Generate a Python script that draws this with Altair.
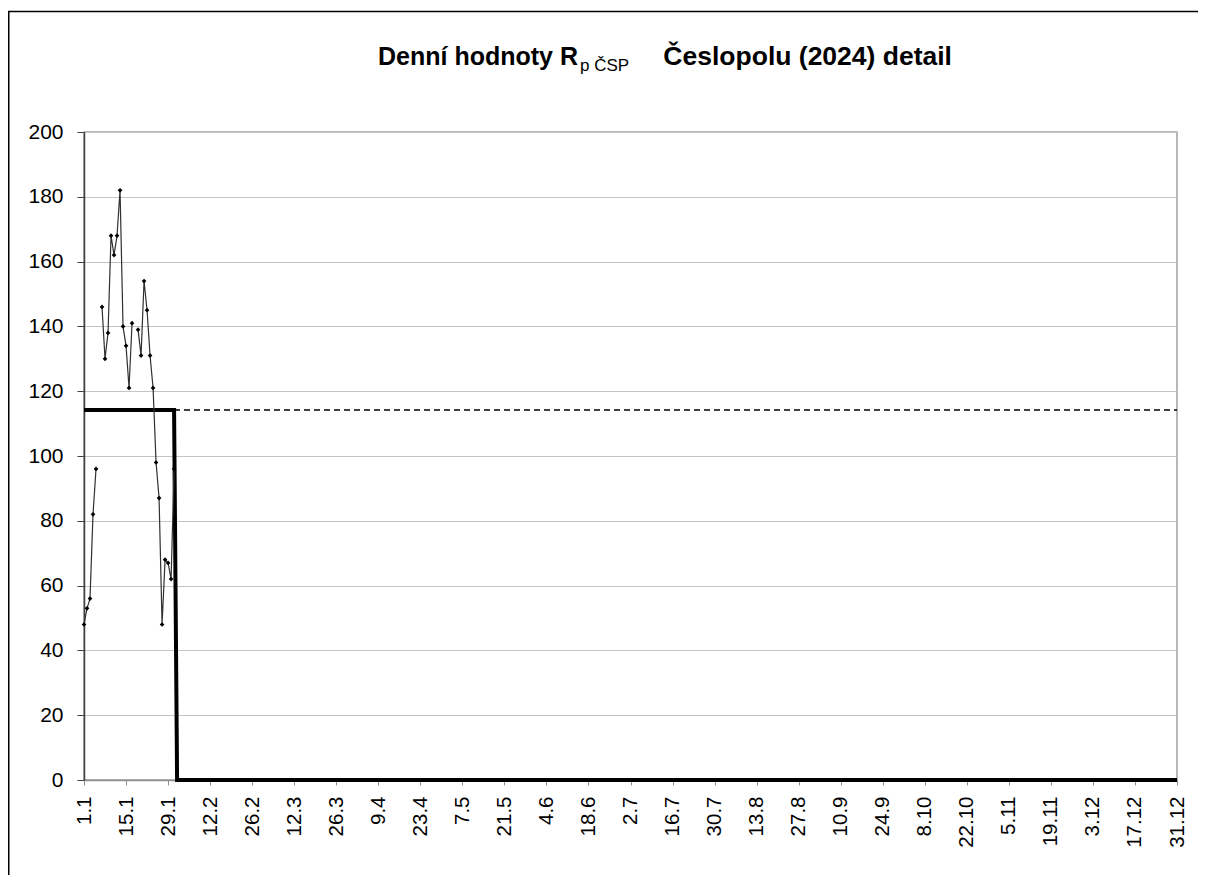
import altair as alt
import pandas as pd

# ---- data ----
jan_days = list(range(1, 32))
rp_jan = [48, 53, 56, 82, 96, None, 146, 130, 138, 168, 162, 168, 182, 140,
          134, 121, 141, None, 139, 131, 154, 145, 131, 121, 98, 87, 48, 68,
          67, 62, 96]
month_lengths = [31, 28, 31, 30, 31, 30, 31, 31, 30, 31, 30, 31]
monthly_mean = [114.2, 0, 0, 0, 0, 0, 0, 0, 0, 0, 0, 0]
yearly_mean = 114.2
tick_days = list(range(1, 366, 14))
tick_labels = ["1.1", "15.1", "29.1", "12.2", "26.2", "12.3", "26.3", "9.4",
               "23.4", "7.5", "21.5", "4.6", "18.6", "2.7", "16.7", "30.7",
               "13.8", "27.8", "10.9", "24.9", "8.10", "22.10", "5.11",
               "19.11", "3.12", "17.12", "31.12"]
y_ticks = list(range(0, 201, 20))

FONT = "Liberation Sans"
W, H = 1093, 648

# daily series with segment ids so gaps break the line
rows = []
seg = 0
for d, v in zip(jan_days, rp_jan):
    if v is None:
        seg += 1
        continue
    rows.append({"day": d, "rp": v, "seg": seg})
daily = pd.DataFrame(rows)

# monthly mean step
step_rows = []
start = 1
for n, m in zip(month_lengths, monthly_mean):
    step_rows.append({"day": start, "val": m, "o": len(step_rows)})
    step_rows.append({"day": start + n - 1, "val": m, "o": len(step_rows)})
    start += n
step = pd.DataFrame(step_rows)

ymean = pd.DataFrame([{"d1": 1, "d2": 365, "val": yearly_mean}])

label_arr = "[" + ",".join("'" + t + "'" for t in tick_labels) + "]"
x_scale = alt.Scale(domain=[1, 365], nice=False, zero=False)
y_scale = alt.Scale(domain=[0, 200], nice=False)

x_axis = alt.Axis(values=tick_days, labelExpr=label_arr + "[round((datum.value-1)/14)]",
                  labelAngle=270, labelAlign="right", labelBaseline="middle",
                  labelFont=FONT, labelFontSize=20.5, labelColor="#000000",
                  labelPadding=11, tickSize=5, tickColor="#909090",
                  domainColor="#909090", domainWidth=1.5, grid=False, title=None,
                  labelOverlap=False)
y_axis = alt.Axis(values=y_ticks, labelFont=FONT, labelFontSize=21,
                  labelColor="#000000", labelPadding=14, tickSize=7,
                  tickColor="#404040", domainColor="#404040", domainWidth=1.5,
                  grid=True, gridColor="#c4c4c4", gridWidth=1, title=None)

one = alt.Data(values=[{}])

border = alt.Chart(one).mark_rect(fill="white", fillOpacity=0, stroke="black",
                                  strokeWidth=1.5).encode(
    x=alt.value(-75.25), x2=alt.value(W + 300),
    y=alt.value(-120.5), y2=alt.value(H + 300))

mean_dash = alt.Chart(ymean).mark_rule(color="black", strokeWidth=1.3,
                                       strokeDash=[6, 4]).encode(
    x=alt.X("d1:Q", scale=x_scale, axis=x_axis),
    x2="d2:Q",
    y=alt.Y("val:Q", scale=y_scale, axis=y_axis))

step_line = alt.Chart(step).mark_line(color="black", strokeWidth=4,
                                      strokeJoin="miter").encode(
    x=alt.X("day:Q", scale=x_scale, axis=x_axis),
    y=alt.Y("val:Q", scale=y_scale, axis=y_axis),
    order="o:Q")

series_line = alt.Chart(daily).mark_line(color="#303030", strokeWidth=1.2).encode(
    x=alt.X("day:Q", scale=x_scale, axis=x_axis),
    y=alt.Y("rp:Q", scale=y_scale, axis=y_axis),
    detail="seg:N")

series_pts = alt.Chart(daily).mark_point(shape="diamond", filled=True,
                                         color="black", size=22, opacity=1).encode(
    x=alt.X("day:Q", scale=x_scale, axis=x_axis),
    y=alt.Y("rp:Q", scale=y_scale, axis=y_axis))

t1 = alt.Chart(one).mark_text(text="Denní hodnoty R", font=FONT, fontSize=25,
                              fontWeight="bold", align="left",
                              baseline="alphabetic", color="black").encode(
    x=alt.value(294), y=alt.value(-67))
t2 = alt.Chart(one).mark_text(text="p ČSP", font=FONT, fontSize=17,
                              fontWeight="normal", align="left",
                              baseline="alphabetic", color="black").encode(
    x=alt.value(496), y=alt.value(-61))
t3 = alt.Chart(one).mark_text(text="Česlopolu (2024) detail", font=FONT,
                              fontSize=26.5, fontWeight="bold", align="right",
                              baseline="alphabetic", color="black").encode(
    x=alt.value(868), y=alt.value(-67))

chart = alt.layer(border, mean_dash, step_line, series_line, series_pts,
                  t1, t2, t3).properties(
    width=W, height=H,
    autosize=alt.AutoSizeParams(type="none"),
    padding={"left": 76, "top": 124, "right": 21, "bottom": 95},
    background="white",
).configure_view(stroke="#a0a0a0", strokeWidth=1.5)

chart.save("out.html", embed_options={"renderer": "svg", "actions": False})
